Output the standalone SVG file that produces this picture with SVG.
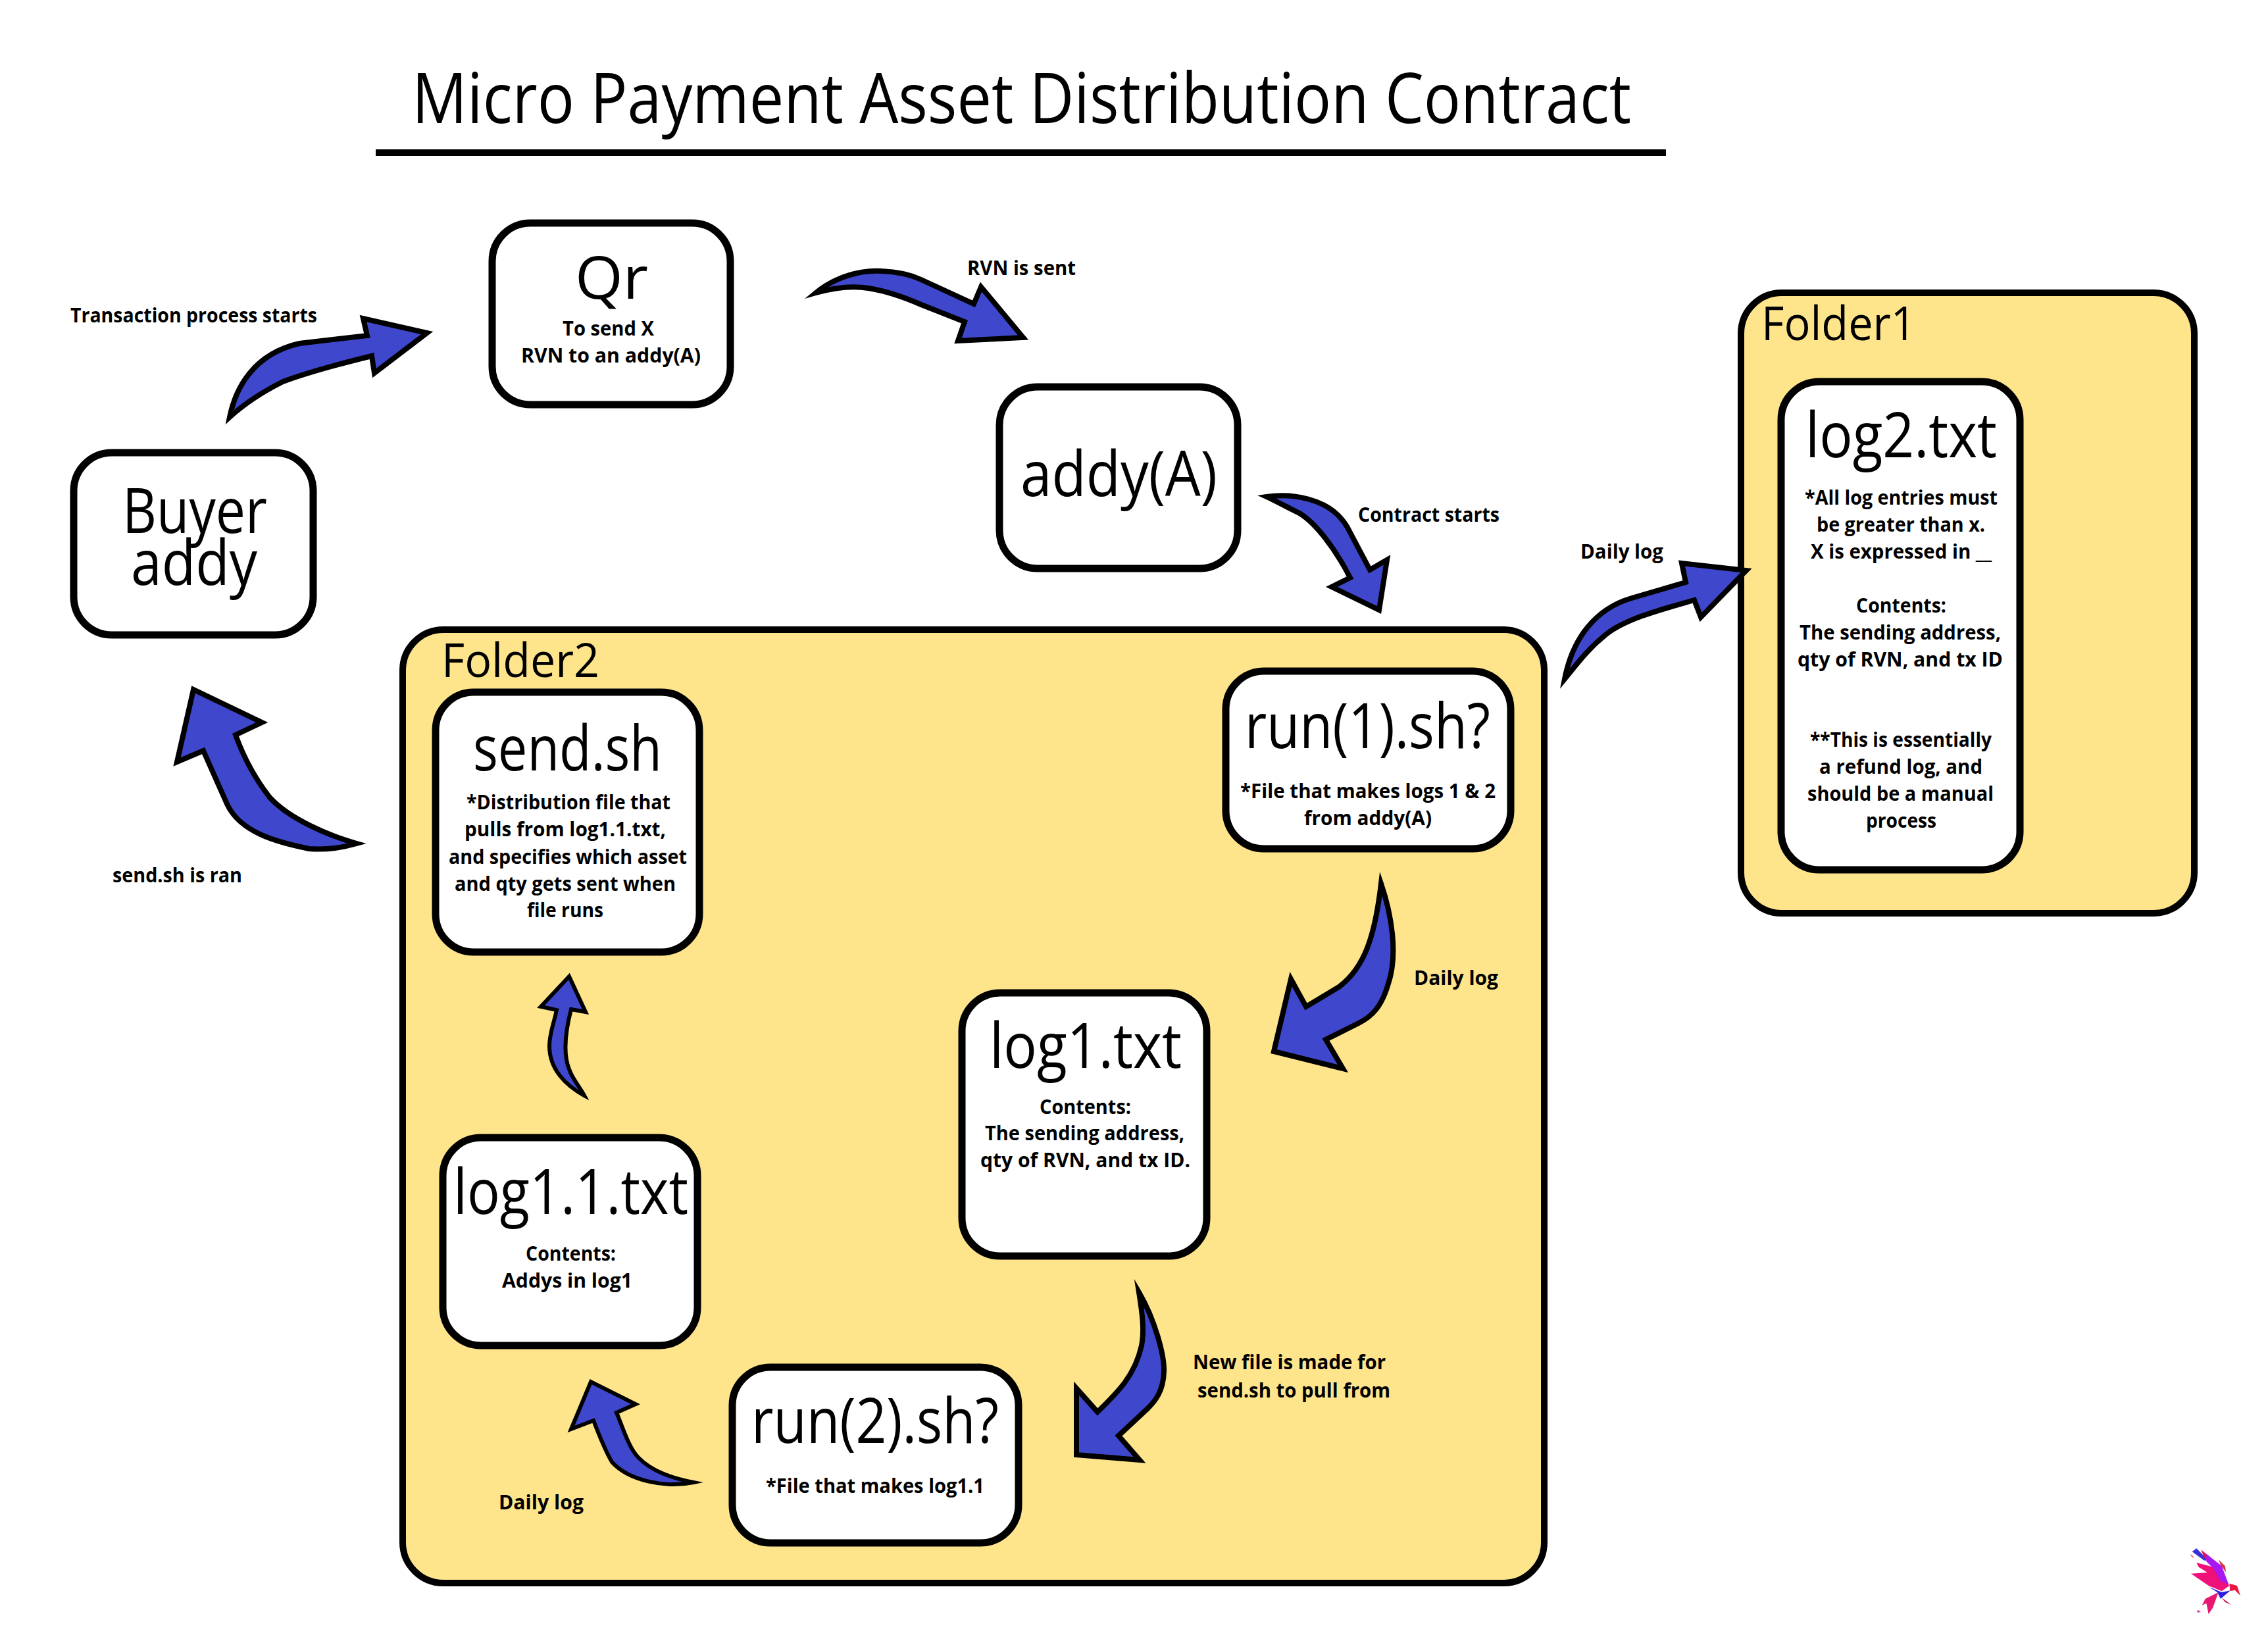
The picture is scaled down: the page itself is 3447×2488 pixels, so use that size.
<svg xmlns="http://www.w3.org/2000/svg" width="3447" height="2488" viewBox="0 0 3447 2488">
<style>
text{font-family:"Open Sans","Noto Sans","Liberation Sans",sans-serif;fill:#000}
.t{font-size:106px;font-weight:370}
.h{font-size:96px;font-weight:370}
.f{font-size:72px;font-weight:370}
.s{font-size:31px;font-weight:700}
.box{fill:#fff;stroke:#000;stroke-width:11}
.folder{fill:#fee58c;stroke:#000;stroke-width:10}
.arr{fill:#3f48cc;stroke:#000;stroke-width:8;stroke-linejoin:miter;stroke-miterlimit:30}
.thin{stroke-width:6}
</style>
<rect width="3447" height="2488" fill="#fff"/>
<g id="title">
<text class="t" x="626" y="187" textLength="1853" lengthAdjust="spacingAndGlyphs">Micro Payment Asset Distribution Contract</text>
<line x1="571" y1="232" x2="2532" y2="232" stroke="#000" stroke-width="10"/>
</g>
<g id="folder2"><rect class="folder" x="612" y="957" width="1735" height="1449" rx="62"/>
<text class="f" x="671" y="1029" textLength="240" lengthAdjust="spacingAndGlyphs">Folder2</text></g>
<g id="folder1"><rect class="folder" x="2646" y="445" width="689" height="943" rx="62"/>
<text class="f" x="2677" y="517" textLength="235" lengthAdjust="spacingAndGlyphs">Folder1</text></g>
<g id="buyer"><rect class="box" x="112" y="688" width="364" height="277" rx="58"/>
<text class="h" x="186" y="810" textLength="220" lengthAdjust="spacingAndGlyphs">Buyer</text>
<text class="h" x="199" y="889" textLength="192" lengthAdjust="spacingAndGlyphs">addy</text></g>
<g id="qr"><rect class="box" x="748" y="339" width="362" height="276" rx="58"/>
<text class="h" style="font-size:90px" x="874" y="454" textLength="111" lengthAdjust="spacingAndGlyphs">Qr</text>
<text class="s" x="855" y="510" textLength="139" lengthAdjust="spacingAndGlyphs">To send X</text>
<text class="s" x="792" y="551" textLength="273" lengthAdjust="spacingAndGlyphs">RVN to an addy(A)</text></g>
<g id="addy-a"><rect class="box" x="1519" y="588" width="362" height="276" rx="58"/>
<text class="h" x="1551" y="754" textLength="299" lengthAdjust="spacingAndGlyphs">addy(A)</text></g>
<g id="log2"><rect class="box" x="2707" y="580" width="363" height="742" rx="58"/>
<text class="h" x="2744" y="695" textLength="291" lengthAdjust="spacingAndGlyphs">log2.txt</text>
<text class="s" x="2743" y="767" textLength="293" lengthAdjust="spacingAndGlyphs">*All log entries must</text>
<text class="s" x="2761" y="808" textLength="256" lengthAdjust="spacingAndGlyphs">be greater than x.</text>
<text class="s" x="2752" y="849" textLength="275" lengthAdjust="spacingAndGlyphs">X is expressed in __</text>
<text class="s" x="2821" y="931" textLength="137" lengthAdjust="spacingAndGlyphs">Contents:</text>
<text class="s" x="2735" y="972" textLength="306" lengthAdjust="spacingAndGlyphs">The sending address,</text>
<text class="s" x="2732" y="1013" textLength="312" lengthAdjust="spacingAndGlyphs">qty of RVN, and tx ID</text>
<text class="s" x="2751" y="1135" textLength="276" lengthAdjust="spacingAndGlyphs">**This is essentially</text>
<text class="s" x="2765" y="1176" textLength="248" lengthAdjust="spacingAndGlyphs">a refund log, and</text>
<text class="s" x="2747" y="1217" textLength="283" lengthAdjust="spacingAndGlyphs">should be a manual</text>
<text class="s" x="2836" y="1258" textLength="107" lengthAdjust="spacingAndGlyphs">process</text></g>
<g id="send"><rect class="box" x="662" y="1052" width="401" height="395" rx="58"/>
<text class="h" x="719" y="1171" textLength="287" lengthAdjust="spacingAndGlyphs">send.sh</text>
<text class="s" x="709" y="1230" textLength="310" lengthAdjust="spacingAndGlyphs">*Distribution file that</text>
<text class="s" x="706" y="1271" textLength="306" lengthAdjust="spacingAndGlyphs">pulls from log1.1.txt,</text>
<text class="s" x="682" y="1313" textLength="362" lengthAdjust="spacingAndGlyphs">and specifies which asset</text>
<text class="s" x="691" y="1354" textLength="336" lengthAdjust="spacingAndGlyphs">and qty gets sent when</text>
<text class="s" x="801" y="1394" textLength="116" lengthAdjust="spacingAndGlyphs">file runs</text></g>
<g id="run1"><rect class="box" x="1863" y="1020" width="433" height="270" rx="58"/>
<text class="h" x="1892" y="1137" textLength="373" lengthAdjust="spacingAndGlyphs">run(1).sh?</text>
<text class="s" x="1885" y="1213" textLength="388" lengthAdjust="spacingAndGlyphs">*File that makes logs 1 &amp; 2</text>
<text class="s" x="1982" y="1254" textLength="194" lengthAdjust="spacingAndGlyphs">from addy(A)</text></g>
<g id="log1"><rect class="box" x="1462" y="1509" width="372" height="400" rx="58"/>
<text class="h" x="1504" y="1623" textLength="292" lengthAdjust="spacingAndGlyphs">log1.txt</text>
<text class="s" x="1580" y="1693" textLength="139" lengthAdjust="spacingAndGlyphs">Contents:</text>
<text class="s" x="1497" y="1733" textLength="303" lengthAdjust="spacingAndGlyphs">The sending address,</text>
<text class="s" x="1490" y="1774" textLength="319" lengthAdjust="spacingAndGlyphs">qty of RVN, and tx ID.</text></g>
<g id="log1-1"><rect class="box" x="673" y="1729" width="387" height="316" rx="58"/>
<text class="h" x="689" y="1845" textLength="357" lengthAdjust="spacingAndGlyphs">log1.1.txt</text>
<text class="s" x="799" y="1916" textLength="137" lengthAdjust="spacingAndGlyphs">Contents:</text>
<text class="s" x="763" y="1957" textLength="198" lengthAdjust="spacingAndGlyphs">Addys in log1</text></g>
<g id="run2"><rect class="box" x="1113" y="2078" width="435" height="267" rx="58"/>
<text class="h" x="1142" y="2193" textLength="376" lengthAdjust="spacingAndGlyphs">run(2).sh?</text>
<text class="s" x="1164" y="2269" textLength="332" lengthAdjust="spacingAndGlyphs">*File that makes log1.1</text></g>
<g id="connectors">
<path class="arr" d="M349,634C358,590 385,538 455,522L558,510L552,484L649,506L569,567L565,541C520,552 470,565 430,580C400,595 370,615 349,634Z"/>
<path class="arr" d="M1240,445C1270,420 1310,410 1340,412C1365,413 1385,418 1400,425L1480,462L1491,436L1555,513L1456,518L1466,489L1400,463C1375,452 1345,442 1320,438C1295,434 1265,438 1240,445Z"/>
<path class="arr" d="M1925,755C1960,750 2020,755 2047,800L2082,866L2108,851L2096,927L2024,892L2052,878C2030,835 2000,795 1975,780C1955,770 1940,762 1925,755Z"/>
<path class="arr" d="M2378,1032C2390,970 2425,925 2480,909L2562,885L2556,856L2654,867L2585,938L2575,912C2530,925 2470,940 2440,965C2415,985 2400,1005 2378,1032Z"/>
<path class="arr" d="M542,1282C500,1270 440,1245 410,1212C385,1180 370,1150 358,1117L398,1098L294,1048L269,1158L309,1141L345,1222C365,1265 420,1280 470,1290C500,1292 520,1288 542,1282Z"/>
<path class="arr" d="M2099,1343C2115,1390 2125,1450 2110,1495C2100,1530 2085,1545 2065,1555L2015,1580L2041,1624L1936,1598L1962,1488L1985,1530L2035,1500C2075,1470 2090,1420 2099,1343Z"/>
<path class="arr" d="M1731,1964C1755,2005 1770,2060 1769,2085C1768,2115 1755,2130 1745,2140L1700,2182L1732,2219L1636,2211L1636,2110L1668,2146C1700,2115 1725,2090 1735,2045C1740,2020 1735,1990 1731,1964Z"/>
<path class="arr thin" d="M888,1665C860,1650 835,1625 835,1590C835,1570 842,1555 846,1535L822,1530L865,1484L890,1538L868,1534C860,1565 855,1600 865,1625C870,1640 880,1650 888,1665Z"/>
<path class="arr thin" d="M1054,2253C1020,2246 990,2236 970,2215C955,2200 945,2165 937,2147L966,2134L898,2100L868,2172L902,2159C910,2180 920,2205 930,2222C955,2250 1010,2262 1054,2253Z"/>
</g>
<g id="labels">
<text class="s" x="107" y="490" textLength="375" lengthAdjust="spacingAndGlyphs">Transaction process starts</text>
<text class="s" x="1470" y="418" textLength="165" lengthAdjust="spacingAndGlyphs">RVN is sent</text>
<text class="s" x="2064" y="793" textLength="215" lengthAdjust="spacingAndGlyphs">Contract starts</text>
<text class="s" x="2402" y="849" textLength="126" lengthAdjust="spacingAndGlyphs">Daily log</text>
<text class="s" x="2149" y="1497" textLength="128" lengthAdjust="spacingAndGlyphs">Daily log</text>
<text class="s" x="758" y="2294" textLength="129" lengthAdjust="spacingAndGlyphs">Daily log</text>
<text class="s" x="1813" y="2081" textLength="293" lengthAdjust="spacingAndGlyphs">New file is made for</text>
<text class="s" x="1820" y="2124" textLength="293" lengthAdjust="spacingAndGlyphs">send.sh to pull from</text>
<text class="s" x="171" y="1341" textLength="197" lengthAdjust="spacingAndGlyphs">send.sh is ran</text>
</g>
<g id="logo" transform="translate(3300 2340) scale(.3333)">
<polygon fill="#f0107a" points="115,105 210,130 265,210 230,235 170,210 90,155 165,150 125,125"/>
<polygon fill="#3a30d8" points="115,40 170,95 150,95 95,55"/>
<polygon fill="#e8104a" points="135,45 190,90 175,110 150,80"/>
<polygon fill="#d83040" points="85,65 105,82 95,80"/>
<polygon fill="#d83040" points="215,90 245,120 250,150 225,115"/>
<polygon fill="#a818f0" points="160,65 230,120 262,205 225,190 195,135 160,100"/>
<polygon fill="#e81840" points="265,200 300,210 315,255 290,230 268,235"/>
<polygon fill="#2a20e0" points="170,215 230,240 270,232 225,270 210,240"/>
<polygon fill="#c02060" points="230,265 275,298 245,285"/>
<polygon fill="#e81870" points="155,270 215,240 190,310 170,340 160,290 140,300"/>
<polygon fill="#e020a0" points="120,320 135,330 118,332"/>
</g>
</svg>
